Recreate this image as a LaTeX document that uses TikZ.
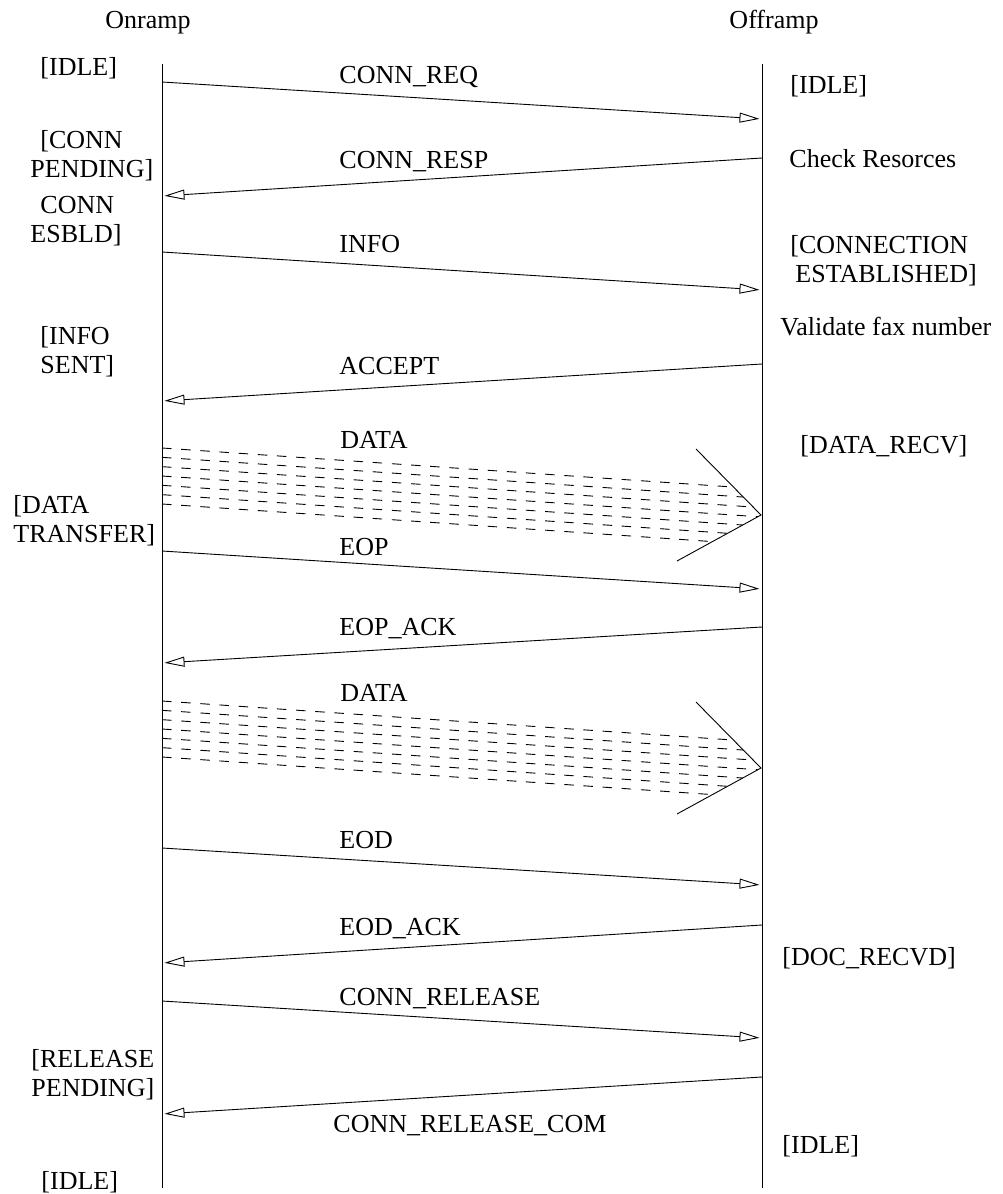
\documentclass[tikz,border=0pt]{standalone}
\usepackage{fontspec}
\setmainfont{Liberation Serif}
\usetikzlibrary{arrows.meta}
\newcommand{\diafont}{\fontsize{26}{29}\selectfont}

\begin{document}
\begin{tikzpicture}[x=1pt, y=-1pt, line width=0.9pt,
  msg/.style={-{Triangle[open, length=20pt, width=10pt]}, shorten >=2.5pt},
  flow/.style={dash pattern=on 9.5pt off 9.7pt},
  state/.style={anchor=base west, align=left},
  lbl/.style={anchor=base west}]
        \tikzstyle{every node}=[font=\diafont, inner sep=0pt]
        \useasboundingbox (0,0) rectangle (1002,1194);

          % lifelines
          \node (onramp) [anchor=base] at (148,28) {Onramp};
          \node (offramp) [anchor=base] at (774,28) {Offramp};
          \coordinate (ontop) at (162,64);
          \coordinate (onbot) at (162,1188);
          \coordinate (offtop) at (762,64);
          \coordinate (offbot) at (762,1188);
          \draw (ontop) -- (onbot);
          \draw (offtop) -- (offbot);

          % states (two-line ones sit on their last line)
          \node (on1) [state] at (40,75) {[IDLE]};
          \node (on2) [state] at (30,177) {\hspace*{10pt}[CONN\\PENDING]};
          \node (on3) [state] at (30,242) {\hspace*{10pt}CONN\\ESBLD]};
          \node (on4) [state] at (40,373) {[INFO\\SENT]};
          \node (on5) [state] at (13,542) {[DATA\\TRANSFER]};
          \node (on6) [state] at (31,1096) {[RELEASE\\PENDING]};
          \node (on7) [state] at (41,1189) {[IDLE]};

          \node (off1) [state] at (790,93) {[IDLE]};
          \node (off2) [state] at (789,167) {Check Resorces};
          \node (off3) [state] at (790,282) {[CONNECTION\\\hspace*{5pt}ESTABLISHED]};
          \node (off4) [state] at (780,335) {Validate fax number};
          \node (off5) [state] at (800,453) {[DATA\_RECV]};
          \node (off6) [state] at (782,965) {[DOC\_RECVD]};
          \node (off7) [state] at (782,1153) {[IDLE]};

          % message ends
          \coordinate (l1) at (162,82);   \coordinate (r1) at (762,119);
          \coordinate (r2) at (762,158);  \coordinate (l2) at (162,196);
          \coordinate (l3) at (162,252);  \coordinate (r3) at (762,290);
          \coordinate (r4) at (762,364);  \coordinate (l4) at (162,401);
          \coordinate (l5) at (162,551);  \coordinate (r5) at (762,589);
          \coordinate (r6) at (762,627);  \coordinate (l6) at (162,663);
          \coordinate (l7) at (162,848);  \coordinate (r7) at (762,885);
          \coordinate (r8) at (762,925);  \coordinate (l8) at (162,963);
          \coordinate (l9) at (162,1001); \coordinate (r9) at (762,1038);
          \coordinate (r10) at (762,1077); \coordinate (l10) at (162,1114);

          \draw[msg] (l1) -- (r1);
          \draw[msg] (r2) -- (l2);
          \draw[msg] (l3) -- (r3);
          \draw[msg] (r4) -- (l4);
          \draw[msg] (l5) -- (r5);
          \draw[msg] (r6) -- (l6);
          \draw[msg] (l7) -- (r7);
          \draw[msg] (r8) -- (l8);
          \draw[msg] (l9) -- (r9);
          \draw[msg] (r10) -- (l10);

          \node (m1) [lbl] at (339,83) {CONN\_REQ};
          \node (m2) [lbl] at (339,168) {CONN\_RESP};
          \node (m3) [lbl] at (339,252) {INFO};
          \node (m4) [lbl] at (339,374) {ACCEPT};
          \node (m5) [lbl] at (339,555) {EOP};
          \node (m6) [lbl] at (339,635) {EOP\_ACK};
          \node (m7) [lbl] at (339,848) {EOD};
          \node (m8) [lbl] at (339,935) {EOD\_ACK};
          \node (m9) [lbl] at (339,1005) {CONN\_RELEASE};
          \node (m10) [lbl] at (333,1132) {CONN\_RELEASE\_COM};

          % data bursts
          \node (d1) [lbl] at (340,448) {DATA};
          \coordinate (dup1) at (696,449);
          \coordinate (dtip1) at (761,515);
          \coordinate (dlow1) at (677,561);
          \begin{scope}
            \clip (150,400) -- (648,400) -- (dtip1) -- (606,600) -- (150,600) -- cycle;
            \foreach \i in {0,...,6}
              \draw[flow] (162,448+9.33*\i) -- (762,489+9.33*\i);
          \end{scope}
          \draw (dup1) -- (dtip1) -- (dlow1);

          \node (d2) [lbl] at (340,701) {DATA};
          \coordinate (dup2) at (696,702);
          \coordinate (dtip2) at (761,768);
          \coordinate (dlow2) at (677,814);
          \begin{scope}
            \clip (150,653) -- (648,653) -- (dtip2) -- (606,853) -- (150,853) -- cycle;
            \foreach \i in {0,...,6}
              \draw[flow] (162,701+9.33*\i) -- (762,742+9.33*\i);
          \end{scope}
          \draw (dup2) -- (dtip2) -- (dlow2);

\end{tikzpicture}
\end{document}
